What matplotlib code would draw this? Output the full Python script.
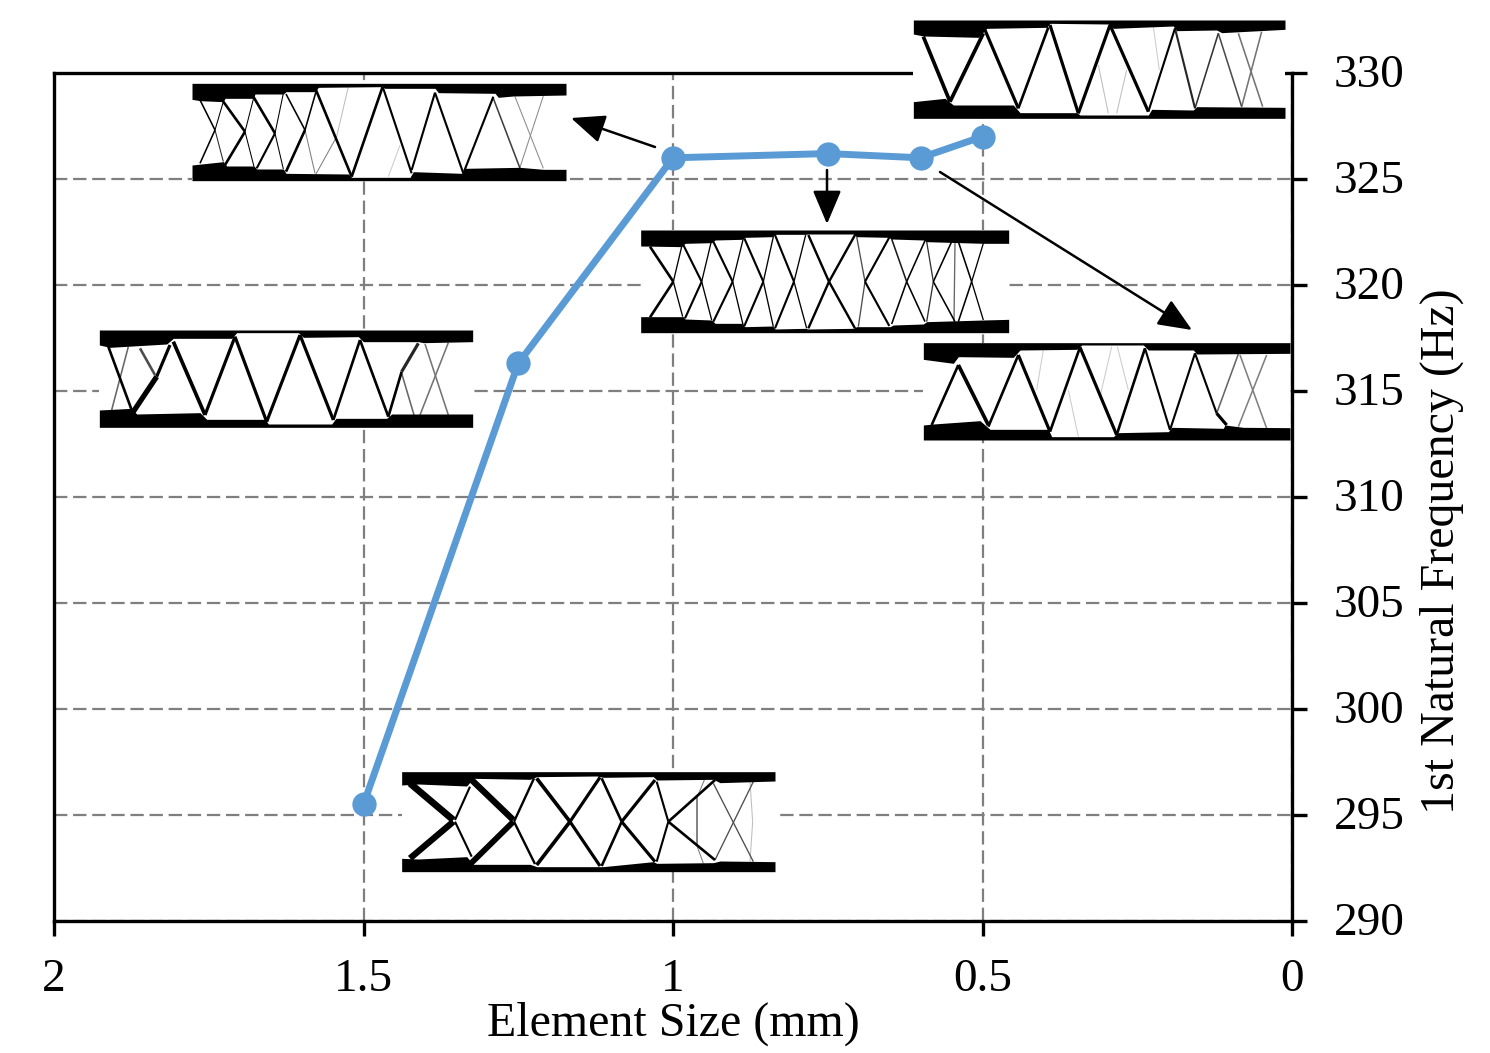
import matplotlib
matplotlib.use('Agg')
import matplotlib.pyplot as plt
from matplotlib.transforms import ScaledTranslation

W, H = 1490, 1053

# Element size vs. first natural frequency
element_size = [1.5, 1.25, 1, 0.75, 0.6, 0.5]
frequency = [295.5, 316.3, 326.0, 326.2, 326.0, 327.0]

x_ticks = [2, 1.5, 1, 0.5, 0]
x_tick_labels = ['2', '1.5', '1', '0.5', '0']
y_ticks = [290, 295, 300, 305, 310, 315, 320, 325, 330]

# Arrows (tail, head) in image pixels
arrows = [((655, 147), (571, 118)),
          ((827, 170), (827, 224)),
          ((940, 172), (1192, 330))]

# Truss insets. Coordinates were read from 3x crops of the picture, so each
# inset has the crop origin, the box inside the crop, the chord edges and the
# struts (x1, y1, x2, y2, width, optional gray level)
t1_crop = (180, 70)
t1_box = (36, 1158, 40, 332)
t1_top = [(36, 88), (60, 92), (130, 95), (135, 85), (220, 85), (225, 72), (310, 72), (318, 65), (405, 65), (415, 52),
          (605, 50), (615, 55), (765, 55), (775, 68), (945, 70), (955, 82), (1000, 78), (1158, 75)]
t1_bottom = [(36, 285), (130, 275), (140, 288), (222, 288), (230, 297), (310, 297), (318, 310), (505, 312),
             (515, 322), (690, 322), (700, 305), (845, 310), (855, 295), (1020, 292), (1090, 298), (1158, 298)]
t1_struts = [(60, 90, 105, 180, 3), (105, 180, 130, 275, 2, .15), (130, 95, 195, 185, 5), (195, 185, 222, 290, 2),
             (135, 285, 195, 185, 5), (105, 180, 60, 280, 3), (130, 95, 105, 180, 2), (220, 80, 285, 190, 5),
             (285, 190, 310, 297, 2), (285, 190, 230, 295, 4), (310, 70, 285, 190, 2), (195, 185, 222, 80, 2),
             (318, 72, 375, 180, 3), (375, 180, 405, 310, 2, .5), (375, 180, 318, 305, 5), (408, 65, 375, 180, 3),
             (408, 60, 515, 320, 5), (505, 50, 470, 200, 2, .75), (470, 200, 408, 312, 2, .5),
             (515, 320, 608, 50, 5), (608, 50, 695, 310, 4), (660, 225, 625, 320, 2, .8), (695, 300, 765, 68, 4),
             (765, 68, 850, 310, 4), (850, 310, 940, 80, 4), (940, 85, 1020, 295, 3, .25),
             (1005, 80, 1090, 295, 2, .55), (1090, 78, 1020, 292, 2, .55)]

t2_crop = (900, 10)
t2_box = (40, 1155, 30, 325)
t2_top = [(40, 72), (70, 78), (235, 82), (260, 55), (440, 52), (450, 40), (625, 42), (640, 55), (820, 48),
          (830, 62), (950, 60), (965, 68), (1155, 58)]
t2_bottom = [(40, 275), (135, 265), (160, 285), (340, 285), (360, 308), (530, 308), (540, 315), (745, 315),
             (755, 298), (880, 300), (890, 290), (1155, 292)]
t2_struts = [(70, 80, 150, 275, 7), (150, 275, 250, 70, 7), (255, 60, 355, 295, 6), (355, 295, 445, 52, 5),
             (450, 45, 535, 310, 6), (535, 310, 630, 45, 6), (630, 45, 745, 305, 6), (745, 305, 825, 55, 4),
             (825, 55, 885, 295, 4, .15), (885, 295, 955, 70, 3, .2), (955, 70, 1025, 290, 3, .3),
             (1015, 70, 1088, 290, 3, .45), (1085, 65, 1025, 290, 3, .45), (595, 165, 625, 310, 2, .75),
             (680, 180, 650, 310, 2, .75), (760, 50, 778, 180, 2, .8)]

t3_crop = (630, 220)
t3_box = (32, 1136, 30, 338)
t3_top = [(32, 78), (155, 80), (165, 70), (245, 68), (255, 60), (335, 58), (345, 52), (428, 50), (435, 43),
          (525, 43), (535, 42), (670, 42), (680, 50), (775, 52), (785, 57), (880, 60), (890, 65), (1060, 70),
          (1136, 70)]
t3_bottom = [(32, 290), (160, 290), (165, 297), (245, 300), (255, 310), (335, 310), (345, 320), (428, 318),
             (435, 327), (525, 325), (535, 327), (670, 325), (680, 320), (780, 320), (790, 315), (880, 312),
             (890, 305), (1060, 300), (1136, 298)]
t3_struts = [(60, 80, 130, 185, 5), (130, 185, 60, 292, 5), (155, 80, 130, 185, 2.5), (130, 185, 158, 290, 2.5),
             (160, 75, 215, 185, 4), (215, 185, 165, 295, 4), (243, 68, 215, 185, 2.5), (215, 185, 245, 300, 2.5),
             (250, 65, 308, 185, 4), (308, 185, 250, 305, 4), (340, 55, 308, 185, 2.5), (308, 185, 340, 318, 2.5),
             (343, 55, 400, 185, 4), (400, 185, 343, 318, 4), (430, 50, 400, 185, 2.5), (400, 185, 430, 320, 2.5),
             (435, 45, 492, 185, 4), (492, 185, 435, 325, 4), (527, 45, 492, 185, 2.5), (492, 185, 530, 325, 2.5),
             (535, 45, 597, 185, 4.5), (597, 185, 535, 325, 4.5), (675, 45, 597, 185, 4.5), (597, 185, 675, 325, 4.5),
             (680, 50, 705, 185, 2.5, .3), (705, 185, 685, 320, 2.5, .3), (778, 52, 705, 185, 4), (705, 185, 778, 318, 4),
             (785, 57, 830, 185, 3, .1), (830, 185, 785, 312, 3), (885, 62, 830, 185, 3), (830, 185, 885, 305, 3),
             (890, 65, 910, 185, 2.5, .2), (910, 185, 890, 305, 2.5, .2), (965, 65, 910, 185, 3), (910, 185, 975, 305, 3),
             (975, 65, 972, 305, 2.5, .4), (985, 65, 1025, 185, 3), (1025, 185, 985, 305, 3),
             (1060, 70, 1025, 185, 2.5), (1025, 185, 1060, 300, 2.5)]

t4_crop = (910, 330)
t4_box = (40, 1140, 38, 330)
t4_top = [(40, 88), (130, 100), (145, 80), (310, 82), (330, 60), (500, 58), (515, 45), (700, 45), (715, 60),
          (850, 60), (860, 72), (1140, 70)]
t4_bottom = [(40, 285), (70, 282), (210, 272), (240, 298), (415, 298), (425, 320), (610, 320), (625, 308),
             (775, 305), (785, 292), (940, 295), (945, 285), (1000, 292), (1140, 293)]
t4_struts = [(145, 105, 65, 285, 5), (145, 105, 235, 285, 7), (235, 290, 325, 75, 5), (325, 75, 420, 305, 6),
             (420, 305, 510, 52, 5), (510, 52, 620, 315, 6), (620, 315, 705, 55, 5), (705, 55, 780, 300, 4),
             (780, 300, 855, 70, 4), (855, 70, 920, 250, 4), (920, 250, 950, 285, 6), (920, 250, 985, 72, 3, .4),
             (990, 75, 1070, 295, 3, .5), (1070, 75, 985, 290, 3, .5), (400, 60, 380, 180, 2, .8),
             (475, 180, 505, 320, 2, .8), (605, 50, 570, 200, 2, .8), (622, 50, 655, 180, 2, .8)]

t5_crop = (90, 320)
t5_box = (28, 1148, 30, 322)
t5_top = [(28, 75), (60, 82), (230, 72), (250, 55), (425, 55), (440, 38), (625, 38), (640, 52), (805, 50),
          (820, 65), (985, 65), (1000, 68), (1148, 65)]
t5_bottom = [(28, 270), (125, 265), (140, 282), (330, 278), (350, 298), (525, 298), (535, 312), (725, 312),
             (738, 295), (890, 295), (905, 282), (1148, 282)]
t5_struts = [(55, 80, 125, 270, 5), (115, 80, 65, 270, 3, .4), (150, 85, 195, 165, 5, .3), (240, 75, 200, 170, 6),
             (200, 170, 130, 275, 10), (250, 65, 345, 285, 7), (345, 285, 435, 50, 6), (435, 50, 530, 305, 6),
             (530, 305, 630, 45, 6), (630, 45, 730, 300, 6), (730, 300, 810, 60, 5), (810, 60, 895, 290, 5),
             (895, 290, 935, 155, 5), (935, 155, 985, 70, 6, .15), (935, 160, 972, 285, 3, .4),
             (1005, 72, 1075, 285, 3, .45), (1075, 68, 990, 285, 3, .45)]

t6_crop = (390, 760)
t6_box = (35, 1155, 35, 335)
t6_top = [(35, 75), (85, 72), (230, 78), (250, 55), (420, 58), (440, 50), (620, 48), (640, 52), (790, 50),
          (800, 60), (970, 58), (990, 68), (1155, 63)]
t6_bottom = [(35, 295), (85, 297), (230, 290), (250, 313), (420, 313), (440, 320), (620, 320), (640, 320),
             (790, 305), (800, 310), (970, 308), (990, 303), (1155, 305)]
t6_struts = [(60, 70, 190, 180, 13), (190, 185, 60, 295, 12), (240, 80, 195, 180, 4), (195, 185, 245, 290, 4),
             (240, 55, 370, 180, 12), (370, 185, 240, 313, 11), (432, 55, 372, 185, 4.5), (372, 185, 435, 312, 4.5),
             (440, 55, 540, 185, 7), (540, 185, 440, 315, 7), (630, 52, 540, 185, 6), (540, 185, 630, 318, 6),
             (635, 55, 695, 185, 5), (695, 185, 635, 318, 5), (795, 60, 695, 185, 6), (695, 185, 795, 305, 6),
             (800, 65, 835, 185, 4), (835, 185, 800, 305, 4), (975, 60, 835, 185, 5), (835, 185, 975, 300, 5),
             (920, 110, 920, 255, 3, .4), (945, 55, 920, 115, 2, .5), (920, 255, 940, 310, 2, .5),
             (970, 70, 1090, 305, 2.5, .3), (1090, 65, 975, 300, 2.5, .3), (1080, 65, 1088, 185, 2, .75),
             (1088, 185, 1080, 305, 2, .75)]


def add_truss(fig, crop, box, top, bottom, struts):
    x0, x1, y0, y1 = box
    left = (crop[0] + x0 / 3) / W
    right = (crop[0] + x1 / 3) / W
    upper = 1 - (crop[1] + y0 / 3) / H
    lower = 1 - (crop[1] + y1 / 3) / H
    ax = fig.add_axes([left, lower, right - left, upper - lower], zorder=5)
    ax.set_xlim(x0, x1)
    ax.set_ylim(y1, y0)
    ax.axis('off')
    ax.add_patch(plt.Rectangle((x0, y0), x1 - x0, y1 - y0, color='white', zorder=0))
    ax.fill_between([p[0] for p in top], y0, [p[1] for p in top], color='black', lw=0, zorder=3)
    ax.fill_between([p[0] for p in bottom], [p[1] for p in bottom], y1, color='black', lw=0, zorder=3)
    # struts go lightest first so the dark ones end up on top
    for x_a, y_a, x_b, y_b, width, *gray in sorted(struts, key=lambda s: -(s[5] if len(s) > 5 else 0)):
        ax.plot([x_a, x_b], [y_a, y_b], color=str(gray[0]) if gray else 'black',
                lw=width * 0.38, solid_capstyle='butt', zorder=2)


plt.rcParams['font.family'] = ['Liberation Serif', 'DejaVu Serif']

fig = plt.figure(figsize=(W / 100, H / 100), dpi=100)
ax = fig.add_axes([54 / W, 1 - 921 / H, 1238 / W, 848 / H])

ax.plot(element_size, frequency, color='#5B9BD5', lw=5, marker='o', markersize=17.5,
        markeredgewidth=0, clip_on=False, zorder=4)

ax.set_xlim(2, 0)
ax.set_ylim(290, 330)
ax.set_xticks(x_ticks)
ax.set_xticklabels(x_tick_labels)
ax.set_yticks(y_ticks)
ax.yaxis.tick_right()
ax.yaxis.set_label_position('right')
ax.tick_params(axis='both', labelsize=34, width=2.4, length=11)
ax.tick_params(axis='y', pad=19)
ax.tick_params(axis='x', pad=16)
# nudge the y tick labels down a little so they centre on the ticks
for label in ax.get_yticklabels():
    label.set_verticalalignment('center')
    label.set_transform(label.get_transform() + ScaledTranslation(0, -0.03, fig.dpi_scale_trans))
ax.grid(True, color='#7f7f7f', lw=1.6, linestyle=(0, (6, 2.6)))
ax.set_axisbelow(True)
for spine in ax.spines.values():
    spine.set_linewidth(2.4)

ax.set_xlabel('Element Size (mm)', fontsize=34.5)
ax.xaxis.set_label_coords(0.5, -0.095)
ax.set_ylabel('1st Natural Frequency (Hz)', fontsize=34.5)
ax.yaxis.set_label_coords(1.103, 0.436)

add_truss(fig, t1_crop, t1_box, t1_top, t1_bottom, t1_struts)
add_truss(fig, t2_crop, t2_box, t2_top, t2_bottom, t2_struts)
add_truss(fig, t3_crop, t3_box, t3_top, t3_bottom, t3_struts)
add_truss(fig, t4_crop, t4_box, t4_top, t4_bottom, t4_struts)
add_truss(fig, t5_crop, t5_box, t5_top, t5_bottom, t5_struts)
add_truss(fig, t6_crop, t6_box, t6_top, t6_bottom, t6_struts)

# Arrows sit over the insets, drawn in figure fractions
for tail, head in arrows:
    arrow = ax.annotate('', xy=(head[0] / W, 1 - head[1] / H), xytext=(tail[0] / W, 1 - tail[1] / H),
                        xycoords='figure fraction', textcoords='figure fraction',
                        arrowprops=dict(arrowstyle='-|>,head_length=1.3,head_width=0.55', color='black',
                                        lw=1.8, shrinkA=0, shrinkB=0, mutation_scale=16))
    arrow.set_zorder(6)

fig.savefig('out.png', dpi=100)
